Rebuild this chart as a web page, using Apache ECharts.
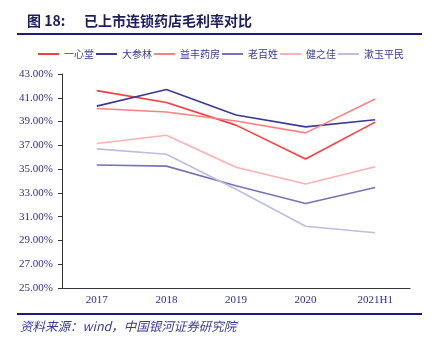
<!DOCTYPE html>
<html><head><meta charset="utf-8">
<script src="https://cdn.jsdelivr.net/npm/echarts@6/dist/echarts.min.js"></script>
<style>html,body{margin:0;padding:0;background:#fff}#c{width:434px;height:355px}</style>
</head><body><div id="c"></div>
<script>
const categories = ['2017', '2018', '2019', '2020', '2021H1'];
const seriesNames = ['一心堂', '大参林', '益丰药房', '老百姓', '健之佳', '漱玉平民'];
const yixintang = [41.6, 40.6, 38.7, 35.85, 38.95];
const dashenlin = [40.3, 41.7, 39.55, 38.55, 39.15];
const yifeng = [40.1, 39.8, 39.05, 38.05, 40.9];
const laobaixing = [35.35, 35.25, 33.6, 32.1, 33.45];
const jianzhijia = [37.15, 37.85, 35.15, 33.75, 35.2];
const shuyu = [36.7, 36.25, 33.3, 30.2, 29.65];
const yTicks = {min: 25, max: 43, interval: 2};
const colors = ['#FF3B3B', '#3A3A96', '#FF8080', '#7474B6', '#FFB0B0', '#BDBDDD'];
const values = [yixintang, dashenlin, yifeng, laobaixing, jianzhijia, shuyu];

const chart = echarts.init(document.getElementById('c'));
const navy = '#2E2E8A';
chart.setOption({
  animation: false,
  color: colors,
  graphic: [
    {type: 'text', left: 27, top: 14, style: {text: '图 18:', font: 'bold 14px "Noto Sans CJK SC", "Liberation Serif"', fill: '#1C1C60'}},
    {type: 'text', left: 84, top: 14, style: {text: '已上市连锁药店毛利率对比', font: 'bold 14px "Noto Sans CJK SC"', fill: '#1C1C60'}},
    {type: 'rect', shape: {x: 17, y: 33, width: 405, height: 2}, style: {fill: '#1C1C7A'}},
    {type: 'rect', shape: {x: 17, y: 313, width: 405, height: 2}, style: {fill: '#1C1C7A'}},
    {type: 'text', left: 20, top: 320, style: {text: '资料来源：wind，中国银河证券研究院', font: 'italic 12.5px "Noto Sans CJK SC", "Liberation Serif"', fill: '#3A3A96'}}
  ],
  legend: {
    top: 44, left: 33,
    itemWidth: 21, itemHeight: 2, itemGap: 2,
    icon: 'rect',
    textStyle: {fontSize: 10, color: '#3A3A96', fontFamily: '"Noto Sans CJK SC"'},
    data: seriesNames
  },
  grid: {left: 62, right: 24, top: 74, bottom: 67},
  xAxis: {
    type: 'category', data: categories, boundaryGap: true,
    axisLine: {lineStyle: {color: '#333', width: 1}},
    axisTick: {length: 4, lineStyle: {color: '#333'}},
    axisLabel: {color: navy, fontSize: 11, fontFamily: '"Liberation Serif"', margin: 7}
  },
  yAxis: {
    type: 'value', min: yTicks.min, max: yTicks.max, interval: yTicks.interval,
    axisLine: {show: true, lineStyle: {color: '#333', width: 1}},
    axisTick: {show: true, length: 4, lineStyle: {color: '#333'}},
    splitLine: {show: false},
    axisLabel: {color: navy, fontSize: 11, fontFamily: '"Liberation Serif"', margin: 9,
      formatter: v => v.toFixed(2) + '%'}
  },
  series: seriesNames.map((n, i) => ({
    name: n, type: 'line', data: values[i], symbol: 'none',
    lineStyle: {width: 1.6, color: colors[i]}
  }))
});
</script></body></html>
